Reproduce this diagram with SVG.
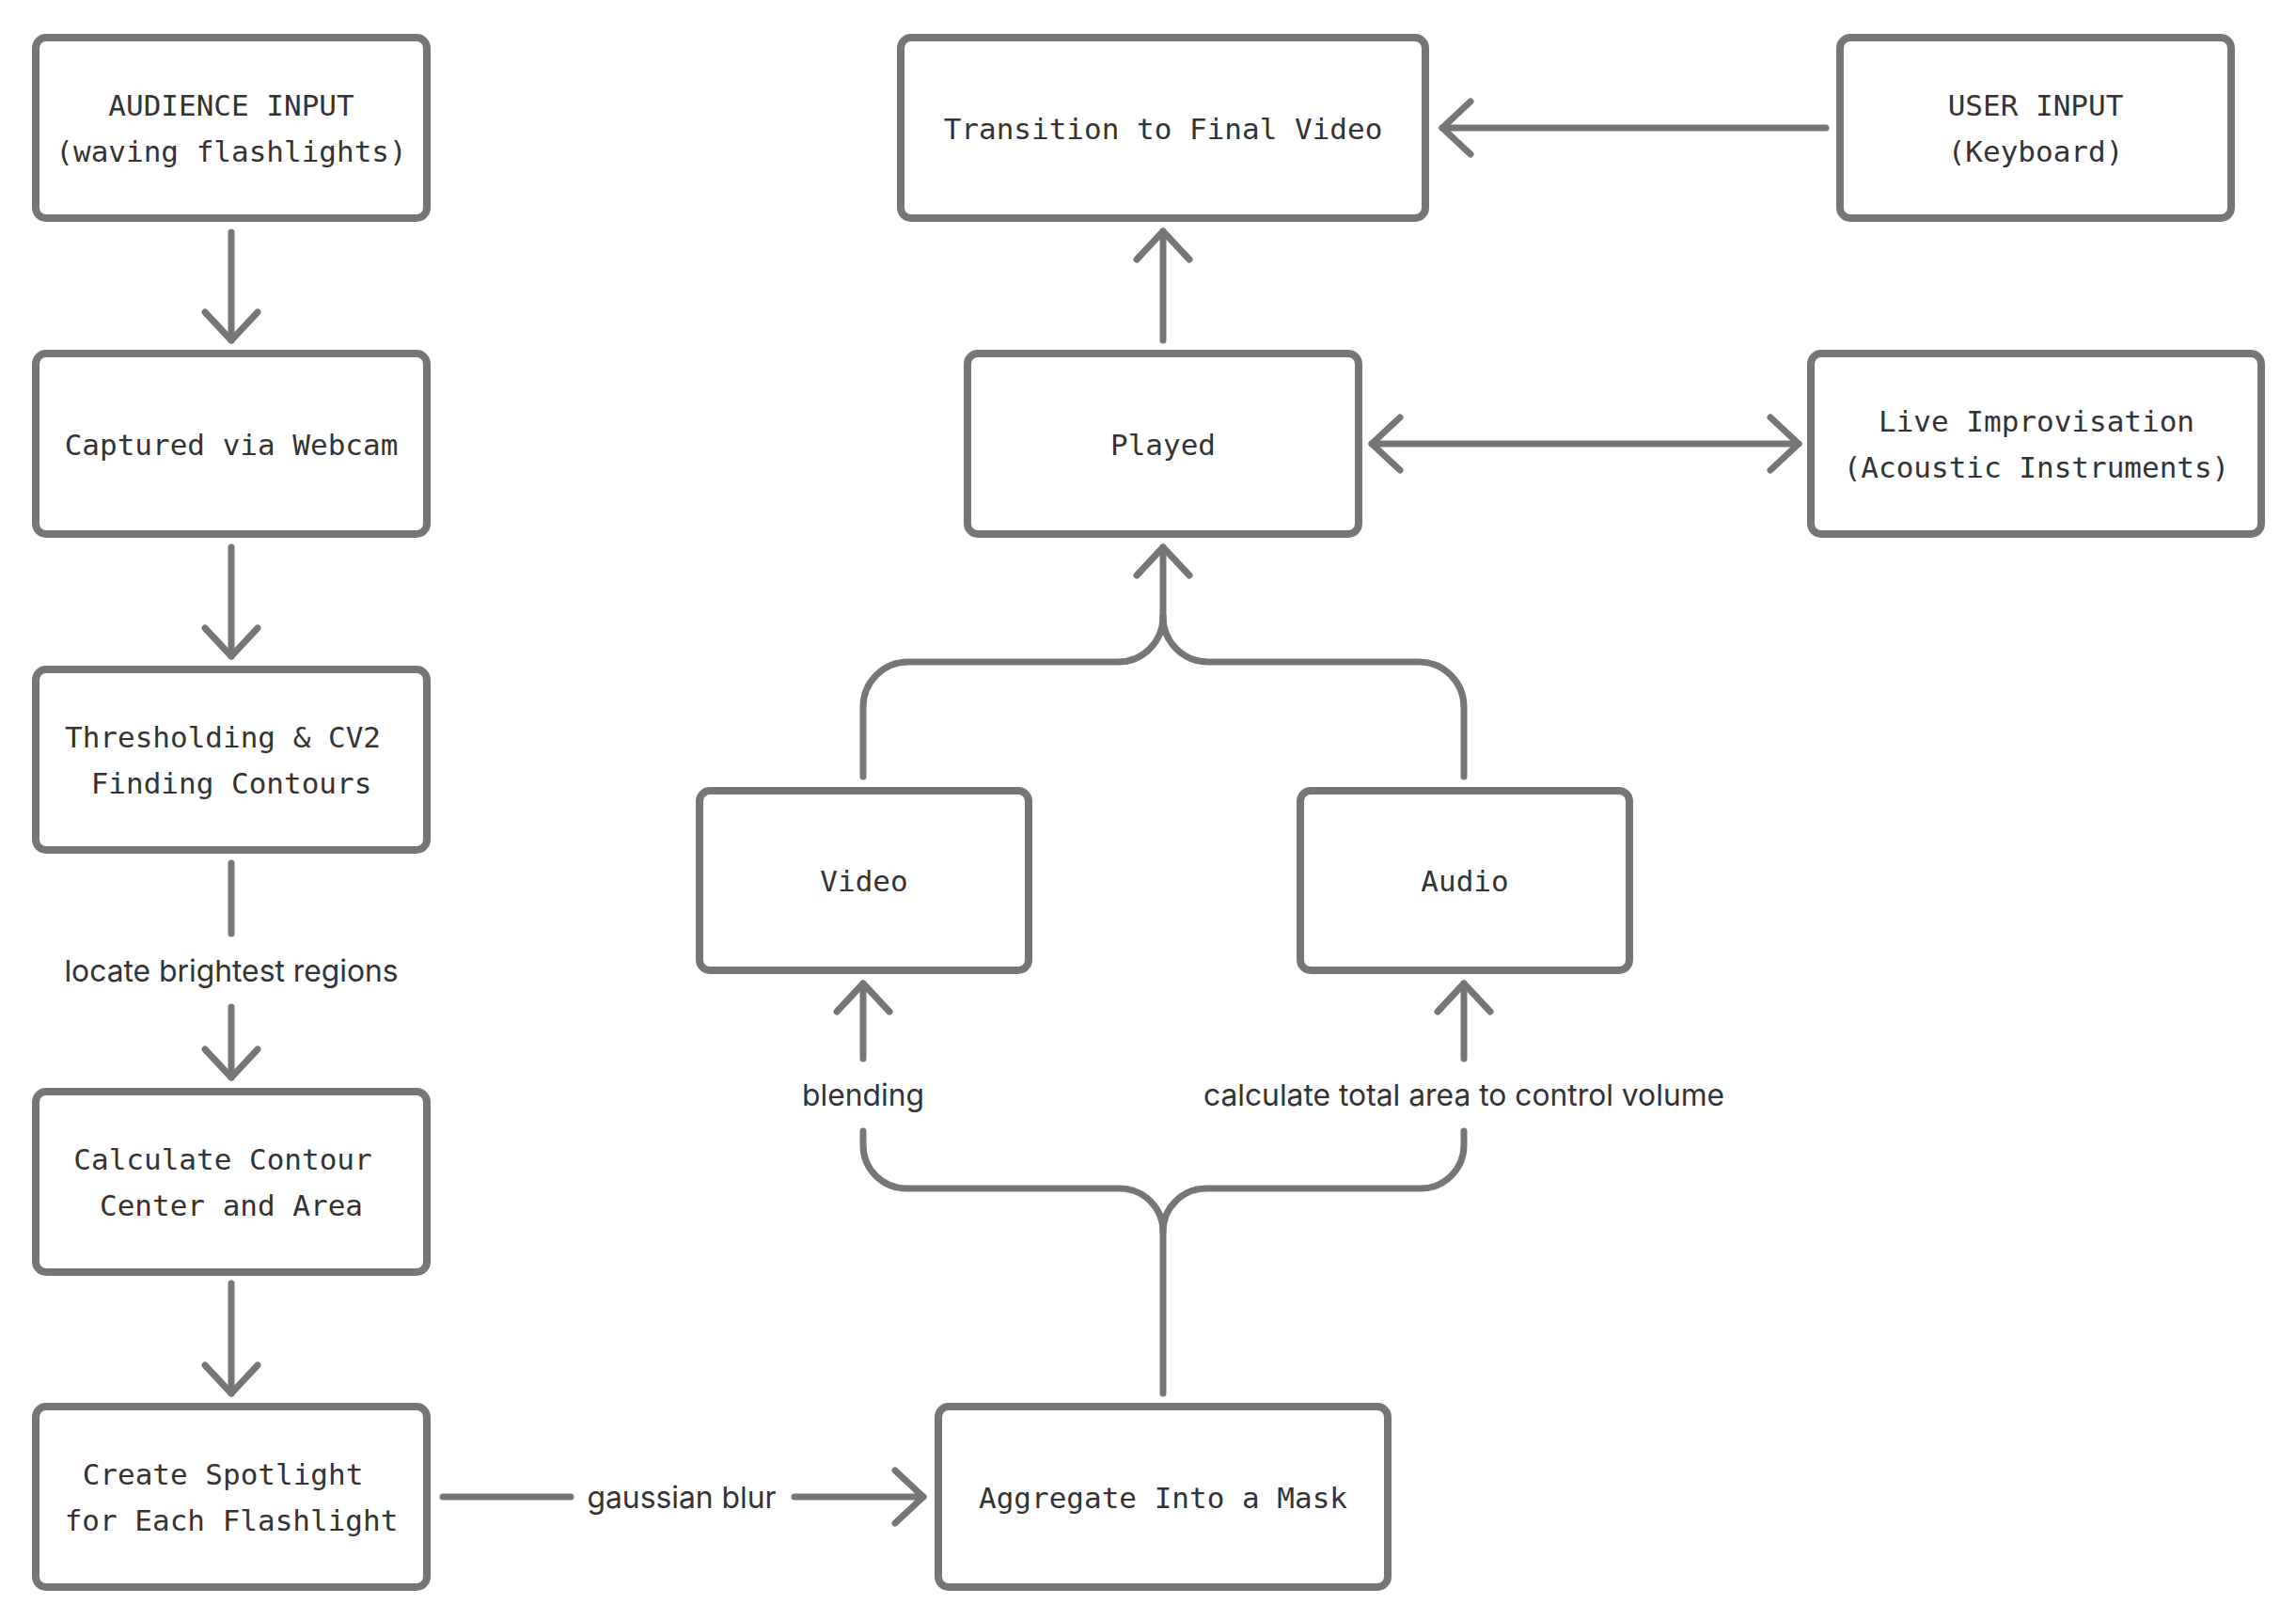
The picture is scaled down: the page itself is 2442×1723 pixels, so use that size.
<svg xmlns="http://www.w3.org/2000/svg" width="2442" height="1723" viewBox="0 0 2442 1723">
<style>
.box{fill:#ffffff;stroke:#767676;stroke-width:8}
.t{font-family:"DejaVu Sans Mono","Liberation Mono",monospace;font-size:31px;fill:#333333;text-anchor:middle}
.lbl{font-family:Inter,"Noto Sans","Liberation Sans",sans-serif;font-size:31.8px;fill:#333333;text-anchor:middle}
.c{fill:none;stroke:#767676;stroke-width:7;stroke-linecap:round;stroke-linejoin:round}
</style>
<defs>
<marker id="ah" viewBox="-40 -40 80 80" markerWidth="80" markerHeight="80" refX="0" refY="0" orient="auto-start-reverse" markerUnits="userSpaceOnUse">
<path d="M -30 -28 L 0 0 L -30 28" fill="none" stroke="#767676" stroke-width="7" stroke-linecap="round" stroke-linejoin="round"/>
</marker>
</defs>
<rect width="2442" height="1723" fill="#ffffff"/>
<g id="connectors">
<path class="c" d="M246 247 V362" marker-end="url(#ah)"/>
<path class="c" d="M246 582 V698" marker-end="url(#ah)"/>
<path class="c" d="M246 918 V993"/>
<path class="c" d="M246 1071 V1146" marker-end="url(#ah)"/>
<path class="c" d="M246 1365 V1482" marker-end="url(#ah)"/>
<path class="c" d="M471 1592 H607"/>
<path class="c" d="M845 1592 H982" marker-end="url(#ah)"/>
<path class="c" d="M1237 1482 V1310 A46 46 0 0 0 1191 1264 H964 A46 46 0 0 1 918 1218 V1203"/>
<path class="c" d="M1237 1310 A46 46 0 0 1 1283 1264 H1511 A46 46 0 0 0 1557 1218 V1203"/>
<path class="c" d="M918 1126 V1046" marker-end="url(#ah)"/>
<path class="c" d="M1557 1126 V1046" marker-end="url(#ah)"/>
<path class="c" d="M918 826 V752 A48 48 0 0 1 966 704 H1189 A48 48 0 0 0 1237 656"/>
<path class="c" d="M1557 826 V752 A48 48 0 0 0 1509 704 H1285 A48 48 0 0 1 1237 656"/>
<path class="c" d="M1237 656 V582" marker-end="url(#ah)"/>
<path class="c" d="M1237 362 V246" marker-end="url(#ah)"/>
<path class="c" d="M1942 136 H1534" marker-end="url(#ah)"/>
<path class="c" d="M1459 472 H1913" marker-start="url(#ah)" marker-end="url(#ah)"/>
<text class="lbl" x="246" y="1044">locate brightest regions</text>
<text class="lbl" x="725" y="1604">gaussian blur</text>
<text class="lbl" x="918" y="1176">blending</text>
<text class="lbl" x="1557" y="1176">calculate total area to control volume</text>
</g>
<g id="audience">
<rect class="box" x="38" y="40" width="416" height="192" rx="11"/>
<text class="t" x="246" y="123">AUDIENCE INPUT</text>
<text class="t" x="246" y="172">(waving flashlights)</text>
</g>
<g id="webcam">
<rect class="box" x="38" y="376" width="416" height="192" rx="11"/>
<text class="t" x="246" y="484">Captured via Webcam</text>
</g>
<g id="threshold">
<rect class="box" x="38" y="712" width="416" height="192" rx="11"/>
<text class="t" x="237" y="795">Thresholding &amp; CV2</text>
<text class="t" x="246" y="844">Finding Contours</text>
</g>
<g id="contour">
<rect class="box" x="38" y="1161" width="416" height="192" rx="11"/>
<text class="t" x="237" y="1244">Calculate Contour</text>
<text class="t" x="246" y="1293">Center and Area</text>
</g>
<g id="spotlight">
<rect class="box" x="38" y="1496" width="416" height="192" rx="11"/>
<text class="t" x="237" y="1579">Create Spotlight</text>
<text class="t" x="246" y="1628">for Each Flashlight</text>
</g>
<g id="mask">
<rect class="box" x="998" y="1496" width="478" height="192" rx="11"/>
<text class="t" x="1237" y="1604">Aggregate Into a Mask</text>
</g>
<g id="video">
<rect class="box" x="744" y="841" width="350" height="191" rx="11"/>
<text class="t" x="919" y="948">Video</text>
</g>
<g id="audio">
<rect class="box" x="1383" y="841" width="350" height="191" rx="11"/>
<text class="t" x="1558" y="948">Audio</text>
</g>
<g id="played">
<rect class="box" x="1029" y="376" width="416" height="192" rx="11"/>
<text class="t" x="1237" y="484">Played</text>
</g>
<g id="transition">
<rect class="box" x="958" y="40" width="558" height="192" rx="11"/>
<text class="t" x="1237" y="148">Transition to Final Video</text>
</g>
<g id="user">
<rect class="box" x="1957" y="40" width="416" height="192" rx="11"/>
<text class="t" x="2165" y="123">USER INPUT</text>
<text class="t" x="2165" y="172">(Keyboard)</text>
</g>
<g id="live">
<rect class="box" x="1926" y="376" width="479" height="192" rx="11"/>
<text class="t" x="2166" y="459">Live Improvisation</text>
<text class="t" x="2166" y="508">(Acoustic Instruments)</text>
</g>
</svg>
